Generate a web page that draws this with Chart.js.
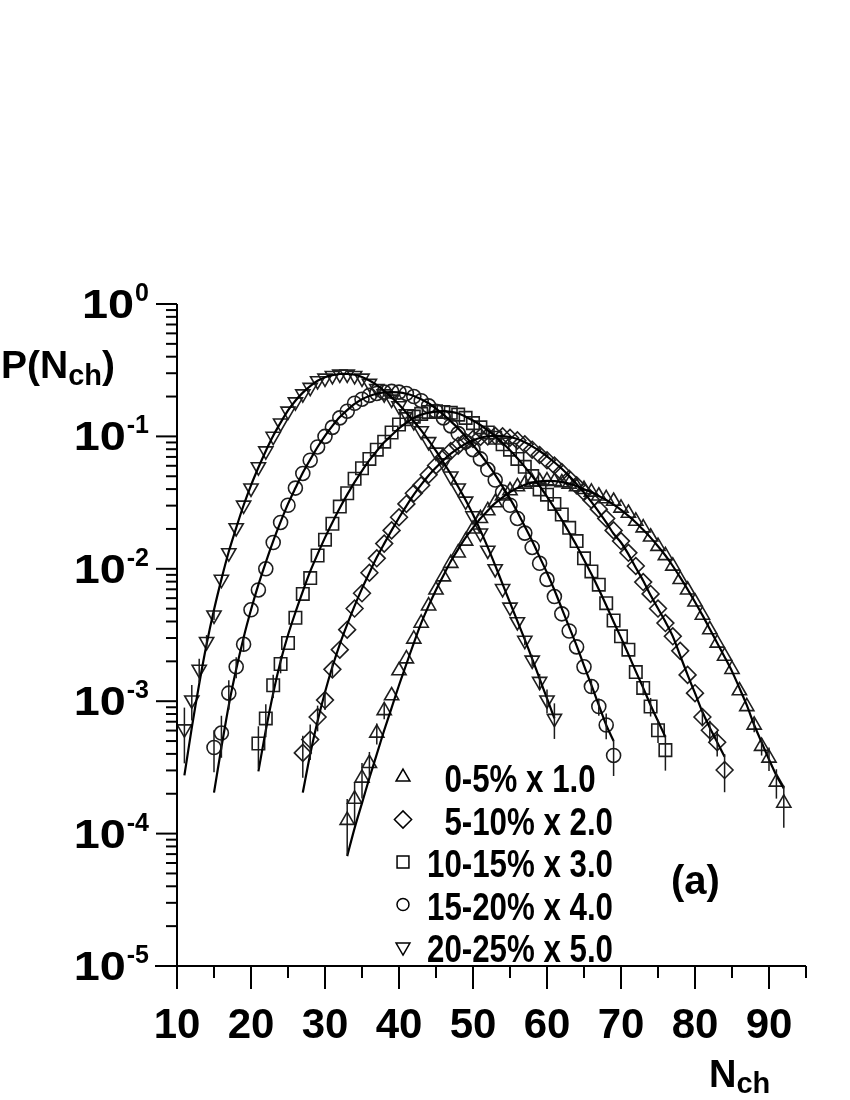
<!DOCTYPE html>
<html lang="en">
<head>
<meta charset="UTF-8">
<title>P(Nch) multiplicity distributions</title>
<script src="https://cdn.jsdelivr.net/npm/chart.js@4/dist/chart.umd.min.js"></script>
<style>
  html, body { margin: 0; padding: 0; background: #fff; }
  canvas { display: block; width: 850px; height: 1100px; }
</style>
</head>
<body>
<canvas id="chart" width="850" height="1100"></canvas>
<script>
// centrality classes (legend text) and the first Nch bin of each class
const legendLabels = ['0-5% x 1.0', '5-10% x 2.0', '10-15% x 3.0', '15-20% x 4.0', '20-25% x 5.0'];
const firstBin = [33, 27, 21, 15, 11];

// measured P(Nch), one value per integer Nch starting at firstBin
const p0to5 = [
  1.26e-4, 1.82e-4, 2.63e-4, 3.39e-4, 5.75e-4, 8.51e-4, 1.10e-3, 1.70e-3, 2.09e-3, 2.95e-3,
  3.89e-3, 5.25e-3, 6.92e-3, 8.71e-3, 0.0110, 0.0132, 0.0162, 0.0200, 0.0240, 0.0275,
  0.0316, 0.0355, 0.0389, 0.0417, 0.0437, 0.0452, 0.0457, 0.0462, 0.0457, 0.0447,
  0.0437, 0.0417, 0.0398, 0.0380, 0.0355, 0.0339, 0.0324, 0.0288, 0.0263, 0.0229,
  0.0204, 0.0174, 0.0148, 0.0126, 0.0105, 8.32e-3, 6.92e-3, 5.62e-3, 4.47e-3, 3.47e-3,
  2.75e-3, 2.19e-3, 1.74e-3, 1.20e-3, 9.12e-4, 6.61e-4, 4.57e-4, 3.72e-4, 2.45e-4, 1.70e-4
];
const p5to10 = [
  4.07e-4, 5.13e-4, 7.59e-4, 1.02e-3, 1.74e-3, 2.45e-3, 3.47e-3, 5.01e-3, 6.53e-3, 9.33e-3,
  0.0120, 0.0155, 0.0195, 0.0245, 0.0309, 0.0372, 0.0427, 0.0513, 0.0603, 0.0692,
  0.0776, 0.0851, 0.0912, 0.0955, 0.0989, 0.100, 0.101, 0.100, 0.0977, 0.0933,
  0.0871, 0.0794, 0.0724, 0.0661, 0.0603, 0.0537, 0.0479, 0.0427, 0.0380, 0.0331,
  0.0282, 0.0240, 0.0195, 0.0162, 0.0132, 0.0105, 7.94e-3, 6.46e-3, 5.01e-3, 3.89e-3,
  3.09e-3, 2.40e-3, 1.58e-3, 1.15e-3, 7.59e-4, 6.03e-4, 4.90e-4, 3.02e-4
];
const p10to15 = [
  4.79e-4, 7.41e-4, 1.32e-3, 1.91e-3, 2.75e-3, 4.27e-3, 6.46e-3, 8.51e-3, 0.0126, 0.0166,
  0.0219, 0.0295, 0.0372, 0.0479, 0.0575, 0.0676, 0.0794, 0.0912, 0.107, 0.123,
  0.135, 0.141, 0.148, 0.153, 0.155, 0.153, 0.151, 0.146, 0.138, 0.126,
  0.117, 0.107, 0.0977, 0.0871, 0.0794, 0.0676, 0.0589, 0.0501, 0.0398, 0.0363,
  0.0309, 0.0257, 0.0204, 0.0162, 0.0120, 9.55e-3, 7.59e-3, 5.50e-3, 4.07e-3, 3.09e-3,
  2.45e-3, 1.66e-3, 1.26e-3, 9.12e-4, 6.03e-4, 4.27e-4
];
const p15to20 = [
  4.47e-4, 5.75e-4, 1.15e-3, 1.82e-3, 2.69e-3, 4.90e-3, 6.92e-3, 0.0100, 0.0158, 0.0224,
  0.0302, 0.0407, 0.0525, 0.0661, 0.0832, 0.100, 0.117, 0.138, 0.155, 0.178,
  0.191, 0.204, 0.211, 0.216, 0.219, 0.216, 0.211, 0.200, 0.186, 0.170,
  0.155, 0.138, 0.120, 0.105, 0.0912, 0.0794, 0.0676, 0.0562, 0.0468, 0.0380,
  0.0302, 0.0240, 0.0186, 0.0145, 0.0110, 8.32e-3, 6.17e-3, 4.57e-3, 3.39e-3, 2.57e-3,
  1.82e-3, 1.29e-3, 9.12e-4, 6.61e-4, 3.89e-4
];
const p20to25 = [
  6.17e-4, 1.02e-3, 1.74e-3, 2.82e-3, 4.47e-3, 8.32e-3, 0.0132, 0.0204, 0.0302, 0.0407,
  0.0589, 0.0776, 0.100, 0.126, 0.155, 0.182, 0.209, 0.234, 0.263, 0.275,
  0.288, 0.295, 0.295, 0.288, 0.275, 0.251, 0.229, 0.209, 0.191, 0.170,
  0.148, 0.129, 0.110, 0.0912, 0.0759, 0.0631, 0.0501, 0.0407, 0.0324, 0.0251,
  0.0186, 0.0138, 0.0100, 7.08e-3, 5.13e-3, 3.98e-3, 2.88e-3, 2.04e-3, 1.41e-3, 1.02e-3,
  7.41e-4
];

// fitted curves, same bins as the data
const fit0to5 = [
  6.76e-5, 1.10e-4, 1.70e-4, 2.63e-4, 3.98e-4, 6.03e-4, 8.91e-4, 1.32e-3, 1.91e-3, 2.75e-3,
  3.89e-3, 5.25e-3, 6.92e-3, 8.91e-3, 0.0114, 0.0141, 0.0172, 0.0204, 0.0240, 0.0275,
  0.0313, 0.0347, 0.0380, 0.0407, 0.0432, 0.0447, 0.0457, 0.0461, 0.0459, 0.0452,
  0.0440, 0.0422, 0.0398, 0.0380, 0.0355, 0.0331, 0.0305, 0.0279, 0.0251, 0.0224,
  0.0197, 0.0172, 0.0148, 0.0126, 0.0105, 8.61e-3, 7.00e-3, 5.62e-3, 4.47e-3, 3.51e-3,
  2.75e-3, 2.16e-3, 1.68e-3, 1.26e-3, 9.33e-4, 6.61e-4, 4.90e-4, 3.63e-4, 2.75e-4, 2.19e-4
];
const fit5to10 = [
  2.04e-4, 3.98e-4, 7.08e-4, 1.17e-3, 1.82e-3, 2.69e-3, 3.80e-3, 5.25e-3, 7.08e-3, 9.33e-3,
  0.0122, 0.0155, 0.0195, 0.0243, 0.0299, 0.0363, 0.0432, 0.0507, 0.0582, 0.0661,
  0.0741, 0.0813, 0.0881, 0.0933, 0.0977, 0.100, 0.101, 0.1007, 0.0989, 0.0955,
  0.0902, 0.0841, 0.0776, 0.0708, 0.0638, 0.0569, 0.0501, 0.0437, 0.0376, 0.0320,
  0.0269, 0.0224, 0.0184, 0.0158, 0.0129, 0.0102, 8.13e-3, 6.31e-3, 5.01e-3, 3.98e-3,
  3.09e-3, 2.21e-3, 1.58e-3, 1.15e-3, 8.32e-4, 6.31e-4, 4.90e-4, 3.80e-4
];
const fit10to15 = [
  2.95e-4, 6.03e-4, 1.15e-3, 2.00e-3, 3.16e-3, 4.68e-3, 6.76e-3, 9.55e-3, 0.0129, 0.0172,
  0.0224, 0.0288, 0.0363, 0.0452, 0.0550, 0.0661, 0.0776, 0.0902, 0.102, 0.115,
  0.127, 0.138, 0.146, 0.151, 0.154, 0.155, 0.153, 0.149, 0.141, 0.132,
  0.122, 0.111, 0.100, 0.0891, 0.0785, 0.0684, 0.0589, 0.0501, 0.0422, 0.0351,
  0.0288, 0.0234, 0.0188, 0.0150, 0.0117, 9.12e-3, 7.00e-3, 5.31e-3, 3.98e-3, 3.02e-3,
  2.26e-3, 1.68e-3, 1.26e-3, 9.33e-4, 7.08e-4, 5.37e-4
];
const fit15to20 = [
  2.04e-4, 4.47e-4, 9.33e-4, 1.74e-3, 3.02e-3, 4.90e-3, 7.59e-3, 0.0112, 0.0162, 0.0226,
  0.0309, 0.0407, 0.0531, 0.0668, 0.0832, 0.101, 0.120, 0.140, 0.158, 0.176,
  0.191, 0.202, 0.210, 0.215, 0.216, 0.215, 0.210, 0.202, 0.191, 0.178,
  0.162, 0.146, 0.130, 0.115, 0.100, 0.0861, 0.0733, 0.0617, 0.0513, 0.0417,
  0.0339, 0.0269, 0.0209, 0.0162, 0.0123, 9.33e-3, 6.92e-3, 5.01e-3, 3.63e-3, 2.63e-3,
  1.86e-3, 1.32e-3, 9.33e-4, 6.61e-4, 5.01e-4
];
const fit20to25 = [
  2.75e-4, 6.31e-4, 1.35e-3, 2.69e-3, 4.90e-3, 8.32e-3, 0.0135, 0.0204, 0.0302, 0.0427,
  0.0582, 0.0776, 0.101, 0.127, 0.157, 0.186, 0.214, 0.240, 0.263, 0.280,
  0.290, 0.296, 0.296, 0.292, 0.281, 0.264, 0.244, 0.221, 0.197, 0.174,
  0.151, 0.130, 0.111, 0.0933, 0.0776, 0.0638, 0.0519, 0.0417, 0.0331, 0.0257,
  0.0195, 0.0145, 0.0106, 7.67e-3, 5.56e-3, 4.03e-3, 2.92e-3, 2.09e-3, 1.48e-3, 1.05e-3,
  7.41e-4
];

// visible error bars: [Nch, relative error]
const err0to5 = [[33, 0.45], [34, 0.35], [35, 0.3], [36, 0.22], [37, 0.18], [38, 0.14],
                 [88, 0.12], [89, 0.15], [90, 0.2], [91, 0.25], [92, 0.35]];
const err5to10 = [[27, 0.35], [28, 0.3], [29, 0.22], [30, 0.16], [31, 0.12],
                  [81, 0.15], [82, 0.18], [83, 0.22], [84, 0.32]];
const err10to15 = [[21, 0.35], [22, 0.28], [23, 0.2], [24, 0.15],
                   [73, 0.12], [74, 0.16], [75, 0.2], [76, 0.3]];
const err15to20 = [[15, 0.35], [16, 0.35], [17, 0.25], [18, 0.18], [19, 0.12],
                   [66, 0.12], [67, 0.15], [68, 0.22], [69, 0.3]];
const err20to25 = [[11, 0.45], [12, 0.3], [13, 0.2], [14, 0.12], [15, 0.08],
                   [57, 0.08], [58, 0.1], [59, 0.14], [60, 0.2], [61, 0.3]];

// axis ticks
const xTicks = [10, 20, 30, 40, 50, 60, 70, 80, 90];
const xMinorTicks = [15, 25, 35, 45, 55, 65, 75, 85, 95];
const yTicks = [1, 0.1, 0.01, 0.001, 0.0001, 0.00001];
const yTickExp = ['0', '-1', '-2', '-3', '-4', '-5'];
const yMinorFactors = [2, 3, 4, 5, 6, 7, 8, 9];

const SANS = '"Liberation Sans", Arial, sans-serif';
const NARROW = '"Liberation Sans Narrow", "Arial Narrow", "Liberation Sans", sans-serif';

const series = [
  { label: legendLabels[0], start: firstBin[0], values: p0to5,   fit: fit0to5,   err: err0to5,   style: 'triangle', rot: 0,   r: 8.2, lr: 8 },
  { label: legendLabels[1], start: firstBin[1], values: p5to10,  fit: fit5to10,  err: err5to10,  style: 'rectRot',  rot: 0,   r: 8.4, lr: 8.6 },
  { label: legendLabels[2], start: firstBin[2], values: p10to15, fit: fit10to15, err: err10to15, style: 'rect',     rot: 0,   r: 8.8, lr: 8.4 },
  { label: legendLabels[3], start: firstBin[3], values: p15to20, fit: fit15to20, err: err15to20, style: 'circle',   rot: 0,   r: 7,   lr: 6 },
  { label: legendLabels[4], start: firstBin[4], values: p20to25, fit: fit20to25, err: err20to25, style: 'triangle', rot: 180, r: 8.2, lr: 8 }
];

const datasets = [];
series.forEach(s => {
  datasets.push({
    label: s.label + ' fit',
    data: s.fit.map((v, i) => ({ x: s.start + i, y: v })),
    showLine: true,
    borderColor: '#000',
    borderWidth: 2.2,
    pointRadius: 0,
    tension: 0.3,
    order: 0
  });
  datasets.push({
    label: s.label,
    data: s.values.map((v, i) => ({ x: s.start + i, y: v })),
    showLine: false,
    pointStyle: s.style,
    pointRotation: s.rot,
    pointRadius: s.r,
    pointBorderWidth: 1.6,
    pointBorderColor: '#1e1e1e',
    pointBackgroundColor: 'rgba(0,0,0,0)',
    order: 1
  });
});

function marker(ctx, style, rot, r, cx, cy) {
  ctx.beginPath();
  if (style === 'circle') {
    ctx.arc(cx, cy, r, 0, Math.PI * 2);
  } else if (style === 'rect') {
    const h = r * Math.SQRT1_2;
    ctx.rect(cx - h, cy - h, 2 * h, 2 * h);
  } else if (style === 'rectRot') {
    ctx.moveTo(cx - r, cy); ctx.lineTo(cx, cy - r); ctx.lineTo(cx + r, cy); ctx.lineTo(cx, cy + r);
    ctx.closePath();
  } else {
    const s = rot ? -1 : 1;
    ctx.moveTo(cx, cy - s * r);
    ctx.lineTo(cx + 0.866 * r, cy + s * 0.5 * r);
    ctx.lineTo(cx - 0.866 * r, cy + s * 0.5 * r);
    ctx.closePath();
  }
  ctx.stroke();
}

function seg(ctx, x1, y1, x2, y2) {
  ctx.beginPath(); ctx.moveTo(x1, y1); ctx.lineTo(x2, y2); ctx.stroke();
}

const decor = {
  id: 'decor',
  afterDatasetsDraw(chart) {
    const { ctx, scales: { x, y } } = chart;
    ctx.save();
    ctx.strokeStyle = '#1a1a1a';
    ctx.lineWidth = 1.5;
    series.forEach(s => {
      s.err.forEach(([bin, rel]) => {
        const v = s.values[bin - s.start];
        const px = x.getPixelForValue(bin);
        seg(ctx, px, y.getPixelForValue(v * (1 + rel)), px, y.getPixelForValue(v * (1 - rel)));
      });
    });
    ctx.restore();
  },
  afterDraw(chart) {
    const { ctx, chartArea: a, scales: { x, y } } = chart;
    ctx.save();
    ctx.strokeStyle = '#000';
    ctx.fillStyle = '#000';
    ctx.lineWidth = 2;

    // axis lines
    seg(ctx, a.left, a.top, a.left, a.bottom + 1);
    seg(ctx, a.left - 22, a.bottom, a.right, a.bottom);

    // x ticks and labels
    ctx.font = 'bold 42px ' + SANS;
    ctx.textAlign = 'center';
    ctx.textBaseline = 'alphabetic';
    xTicks.forEach(v => {
      const px = x.getPixelForValue(v);
      seg(ctx, px, a.bottom, px, a.bottom + 23);
      ctx.fillText(String(v), px, a.bottom + 72);
    });
    xMinorTicks.forEach(v => {
      const px = x.getPixelForValue(v);
      seg(ctx, px, a.bottom, px, a.bottom + 12);
    });

    // y ticks and 10^n labels
    yTicks.forEach((v, i) => {
      const py = y.getPixelForValue(v);
      seg(ctx, a.left - 21, py, a.left, py);
      ctx.font = 'bold 25px ' + SANS;
      const supW = ctx.measureText(yTickExp[i]).width;
      const supX = a.left - 28 - supW;
      ctx.textAlign = 'left';
      ctx.fillText(yTickExp[i], supX, py - 3);
      ctx.save();
      ctx.translate(supX - 1, py + 14);
      ctx.scale(1.17, 1);
      ctx.font = 'bold 40px ' + SANS;
      ctx.textAlign = 'right';
      ctx.fillText('10', 0, 0);
      ctx.restore();
    });
    yTicks.slice(1).forEach(dec => {
      yMinorFactors.forEach(f => {
        const py = y.getPixelForValue(dec * f);
        seg(ctx, a.left - 11, py, a.left, py);
      });
    });

    // axis titles
    ctx.textAlign = 'left';
    ctx.font = 'bold 39px ' + SANS;
    ctx.fillText('P(N', 1, 378);
    let w = ctx.measureText('P(N').width;
    ctx.font = 'bold 29px ' + SANS;
    ctx.fillText('ch', 1 + w, 385);
    w += ctx.measureText('ch').width;
    ctx.font = 'bold 39px ' + SANS;
    ctx.fillText(')', 1 + w, 378);

    ctx.font = 'bold 38px ' + SANS;
    ctx.fillText('N', 709, 1087);
    const nW = ctx.measureText('N').width;
    ctx.font = 'bold 29px ' + SANS;
    ctx.fillText('ch', 709 + nW, 1093);

    // panel tag
    ctx.font = 'bold 40px ' + SANS;
    ctx.fillText('(a)', 671, 894);

    // legend inside the plot
    ctx.font = 'bold 39px ' + NARROW;
    const sx = 186 / ctx.measureText(legendLabels[2]).width;
    const digitW = ctx.measureText('1').width * sx;
    ctx.lineWidth = 1.5;
    series.forEach((s, i) => {
      const cy = 777 + i * 42.5;
      marker(ctx, s.style, s.rot, s.lr, 403, cy);
      const indent = s.label.indexOf('-') === 1 ? digitW : 0;
      ctx.save();
      ctx.translate(427 + indent, cy + 15);
      ctx.scale(sx, 1);
      ctx.fillText(s.label, 0, 0);
      ctx.restore();
    });
    ctx.restore();
  }
};

new Chart(document.getElementById('chart'), {
  type: 'scatter',
  data: { datasets },
  options: {
    responsive: false,
    animation: false,
    layout: { padding: { top: 304, right: 44, left: 0, bottom: 0 } },
    scales: {
      x: {
        type: 'linear', min: 10, max: 95,
        ticks: { display: false },
        grid: { display: false, drawTicks: false },
        border: { display: false },
        afterFit: s => { s.height = 134; }
      },
      y: {
        type: 'logarithmic', min: 1e-5, max: 1,
        ticks: { display: false },
        grid: { display: false, drawTicks: false },
        border: { display: false },
        afterFit: s => { s.width = 177; }
      }
    },
    plugins: { legend: { display: false }, tooltip: { enabled: false } }
  },
  plugins: [decor]
});
</script>
</body>
</html>
